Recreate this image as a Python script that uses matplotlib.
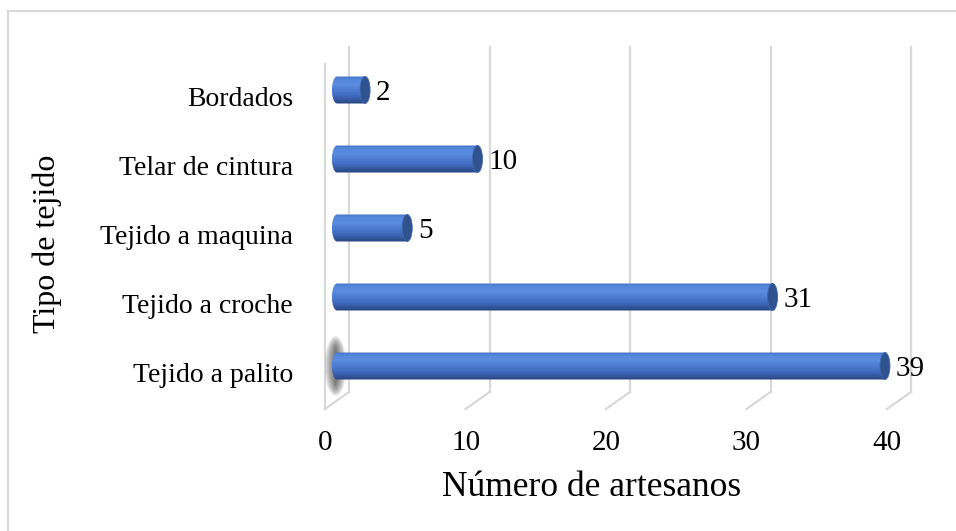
import numpy as np
import matplotlib
matplotlib.use("Agg")
import matplotlib.pyplot as plt
from matplotlib.patches import Ellipse, PathPatch, Polygon
from matplotlib.path import Path
from matplotlib.lines import Line2D

# datos
categorias = ["Tejido a palito", "Tejido a croche", "Tejido a maquina",
              "Telar de cintura", "Bordados"]
artesanos = [39, 31, 5, 10, 2]
xticks = [0, 10, 20, 30, 40]

plt.rcParams['font.family'] = ['Liberation Serif', 'DejaVu Serif']

W, H = 956, 531
fig = plt.figure(figsize=(W / 100, H / 100), dpi=100)

# back wall of the 3d plot area, in pixels
x0, x1 = 349, 911
ytop, ybot = 47, 392
ax = fig.add_axes([x0 / W, 1 - ybot / H, (x1 - x0) / W, (ybot - ytop) / H])
ax.set_xlim(0, 40)
ax.set_ylim(-0.5, 4.5)
ax.axis('off')

pxx = (x1 - x0) / 40.0      # pixels per unit in x
pxy = (ybot - ytop) / 5.0   # pixels per category
ddx, ddy = -24 / pxx, -17 / pxy   # depth vector (back -> front)
grid = '#d9d9d9'

# gridlines + floor
for v in xticks:
    ax.plot([v, v], [-0.5, 4.5], color=grid, lw=1.6, clip_on=False, zorder=1)
    ax.plot([v, v + ddx], [-0.5, -0.5 + ddy], color=grid, lw=1.6,
            clip_on=False, zorder=1)
    ax.text(v + ddx, -0.5 + ddy - 34 / pxy, str(v), ha='center', va='center',
            fontsize=21)
# left wall front edge
ax.plot([ddx, ddx], [-0.5 + ddy, 4.5 + ddy], color=grid, lw=1.6,
        clip_on=False, zorder=1)
wall = Polygon([(0, -0.5), (0, 4.5), (ddx, 4.5 + ddy), (ddx, -0.5 + ddy)],
               closed=True, fill=False, edgecolor='none', transform=ax.transData)
ax.add_patch(wall)

# cylinders
h = 27 / pxy
capw = 10 / pxx
sx = ddx / 2
ys = np.arange(len(categorias)) + ddy / 2

stops_t = [0.0, 0.3, 0.72, 0.9, 1.0]
stops_c = np.array([[0.16, 0.27, 0.50], [0.25, 0.42, 0.75],
                    [0.35, 0.55, 0.88], [0.33, 0.53, 0.86],
                    [0.27, 0.45, 0.78]])

clips = []
for yc, v in zip(ys, artesanos):
    th = np.linspace(np.pi / 2, 3 * np.pi / 2, 40)
    verts = [(sx + capw / 2 * np.cos(t), yc + h / 2 * np.sin(t)) for t in th]
    verts += [(sx + v, yc - h / 2), (sx + v, yc + h / 2), verts[0]]
    codes = [Path.MOVETO] + [Path.LINETO] * (len(verts) - 2) + [Path.CLOSEPOLY]
    cp = PathPatch(Path(verts, codes), facecolor='none', edgecolor='none',
                   transform=ax.transData)
    ax.add_patch(cp)
    clips.append(cp)

n = 36
for k in range(n):
    t = (k + 0.5) / n
    c = [np.interp(t, stops_t, stops_c[:, j]) for j in range(3)]
    bars = ax.barh(ys - h / 2 + t * h, [v + capw / 2 for v in artesanos],
                   height=h / n * 1.3, left=sx - capw / 2, color=c,
                   linewidth=0, zorder=3)
    for b, cp in zip(bars, clips):
        b.set_clip_box(None)
        b.set_clip_path(cp)

for yc, v in zip(ys, artesanos):
    ax.add_patch(Ellipse((sx + v, yc), capw, h, facecolor='#30528f',
                         edgecolor='#3f66ad', lw=0.6, zorder=4, clip_on=False))
    ax.text(sx + v + capw / 2 + 6 / pxx, yc - 3 / pxy, str(v), ha='left',
            va='center', fontsize=21, zorder=5)

# soft shadow of the first bar on the wall (stacked translucent ellipses)
for k in range(12):
    f = 1 - k / 12
    sh = Ellipse((sx - 0.1, ys[0]), (22 / pxx) * f, (60 / pxy) * (0.55 + 0.45 * f),
                 facecolor='#404040', edgecolor='none', alpha=0.09, zorder=2)
    ax.add_patch(sh)
    sh.set_clip_box(None)
    sh.set_clip_path(wall)

# category labels (front plane)
for i, cat in enumerate(categorias):
    ax.text((293 - x0) / pxx, i + ddy - 1 / pxy, cat, ha='right', va='center',
            fontsize=20)

fig.text(592 / W, 1 - 487 / H, "Número de artesanos", ha='center',
         va='center', fontsize=25.5)
fig.text(47 / W, 1 - 244 / H, "Tipo de tejido", ha='center', va='center',
         rotation=90, fontsize=23)

# chart border
fig.add_artist(Line2D([8 / W, 8 / W], [0, 1 - 11 / H], color=grid, lw=1.5,
                      transform=fig.transFigure))
fig.add_artist(Line2D([8 / W, 1], [1 - 11 / H, 1 - 11 / H], color=grid, lw=1.5,
                      transform=fig.transFigure))

fig.savefig("out.png", dpi=100)
